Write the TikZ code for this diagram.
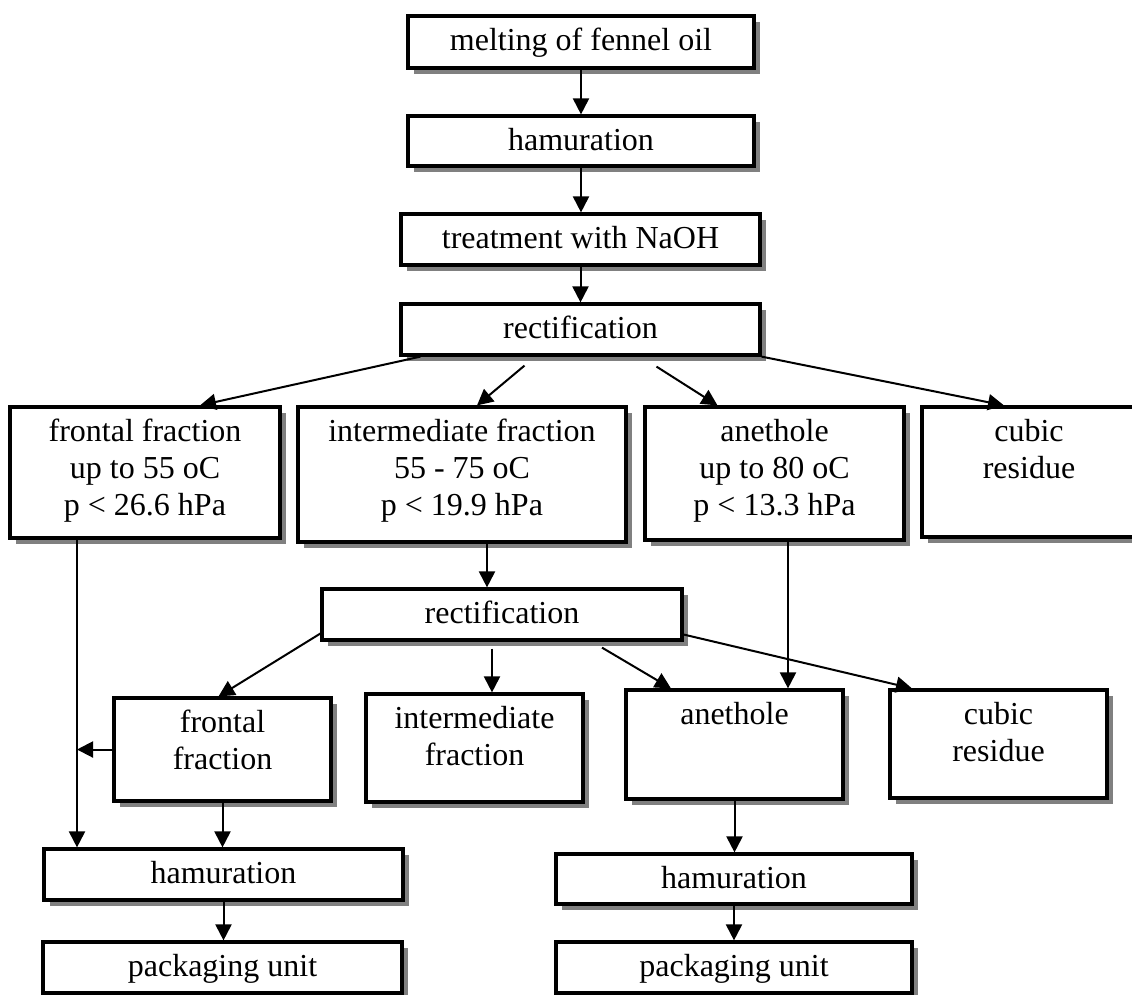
\documentclass[tikz,border=0pt]{standalone}
\usepackage{fontspec}
\setmainfont{Liberation Serif}
\usetikzlibrary{arrows.meta, shadows}

\newcommand{\boxtext}[3]{\parbox[c][#2pt][t]{#1pt}{\centering\rule{0pt}{34pt}#3}}

\begin{document}
\begin{tikzpicture}[x=1pt, y=-1pt,
    stepbox/.style={draw, line width=3.2pt, fill=white, inner sep=0pt,
        font=\fontsize{32}{37}\selectfont,
        drop shadow={shadow xshift=6pt, shadow yshift=-6pt, fill=black!50, opacity=1}},
    flow/.style={line width=2pt, -{Triangle[length=16pt, width=16pt]}}]
    \useasboundingbox (0,0) rectangle (1132,994);
    % main line
    \node[stepbox] (melt) at (581,42) {\boxtext{346}{52}{melting of fennel oil}};
    \node[stepbox] (hamA) at (581,141) {\boxtext{346}{50}{hamuration}};
    \node[stepbox] (naoh) at (580.5,239.5) {\boxtext{359}{51}{treatment with NaOH}};
    \node[stepbox] (rectA) at (580.5,329.5) {\boxtext{359}{51}{rectification}};
    % first fractions
    \node[stepbox] (frontA) at (145,472.5) {\boxtext{270}{131}{frontal fraction\\up to 55 oC\\p < 26.6 hPa}};
    \node[stepbox] (interA) at (462,474.5) {\boxtext{328}{135}{intermediate fraction\\55 - 75 oC\\p < 19.9 hPa}};
    \node[stepbox] (anetA) at (774.5,473.5) {\boxtext{259}{133}{anethole\\up to 80 oC\\p < 13.3 hPa}};
    \node[stepbox] (cubicA) at (1029,472) {\boxtext{214}{130}{cubic\\residue}};
    % second rectification
    \node[stepbox] (rectB) at (502,614.5) {\boxtext{360}{51}{rectification}};
    \node[stepbox] (frontB) at (222.5,749.5) {\boxtext{217}{103}{frontal\\fraction}};
    \node[stepbox] (interB) at (474.5,748) {\boxtext{217}{108}{intermediate\\fraction}};
    \node[stepbox] (anetB) at (734.5,744.5) {\boxtext{217}{109}{anethole}};
    \node[stepbox] (cubicB) at (998.5,744) {\boxtext{217}{108}{cubic\\residue}};
    % final steps
    \node[stepbox] (hamL) at (223.5,874.5) {\boxtext{359}{51}{hamuration}};
    \node[stepbox] (pkgL) at (222.5,967.5) {\boxtext{359}{51}{packaging unit}};
    \node[stepbox] (hamR) at (734,879) {\boxtext{356}{50}{hamuration}};
    \node[stepbox] (pkgR) at (734,967.5) {\boxtext{356}{51}{packaging unit}};
    \coordinate (drop) at ([xshift=-68pt]frontA.south);

    \draw[flow] (melt.south) -- (hamA.north);
    \draw[flow] (hamA.south) -- (hamA.south |- naoh.north);
    \draw[flow] (naoh.south) -- (rectA.north);
    \draw[flow] ([xshift=-160pt]rectA.south) -- ([xshift=55pt]frontA.north);
    \draw[flow] ([shift={(-56pt,-9pt)}]rectA.south) -- ([xshift=15pt]interA.north);
    \draw[flow] ([shift={(76pt,-10pt)}]rectA.south) -- ([xshift=-57pt]anetA.north);
    \draw[flow] (rectA.south east) -- ([xshift=-25pt]cubicA.north);
    \draw[flow] ([xshift=25pt]interA.south) -- ([xshift=-15pt]rectB.north);
    \draw[flow] ([xshift=13.5pt]anetA.south) -- ([xshift=53.5pt]anetB.north);
    \draw[flow] ([yshift=-19pt]rectB.west) -- ([xshift=-4pt]frontB.north);
    \draw[flow] ([shift={(-10pt,-7pt)}]rectB.south) -- ([xshift=17.5pt]interB.north);
    \draw[flow] ([shift={(100pt,-6pt)}]rectB.south) -- ([xshift=-63.5pt]anetB.north);
    \draw[flow] ([yshift=-20pt]rectB.east) -- ([xshift=-86.5pt]cubicB.north);
    \draw[flow] (drop) -- (drop |- hamL.north);
    \draw[flow] (frontB.west) -- (frontB.west -| drop);
    \draw[flow] (frontB.south) -- (frontB.south |- hamL.north);
    \draw[flow] (hamL.south) -- (hamL.south |- pkgL.north);
    \draw[flow] (anetB.south) -- (anetB.south |- hamR.north);
    \draw[flow] (hamR.south) -- (hamR.south |- pkgR.north);
\end{tikzpicture}
\end{document}
